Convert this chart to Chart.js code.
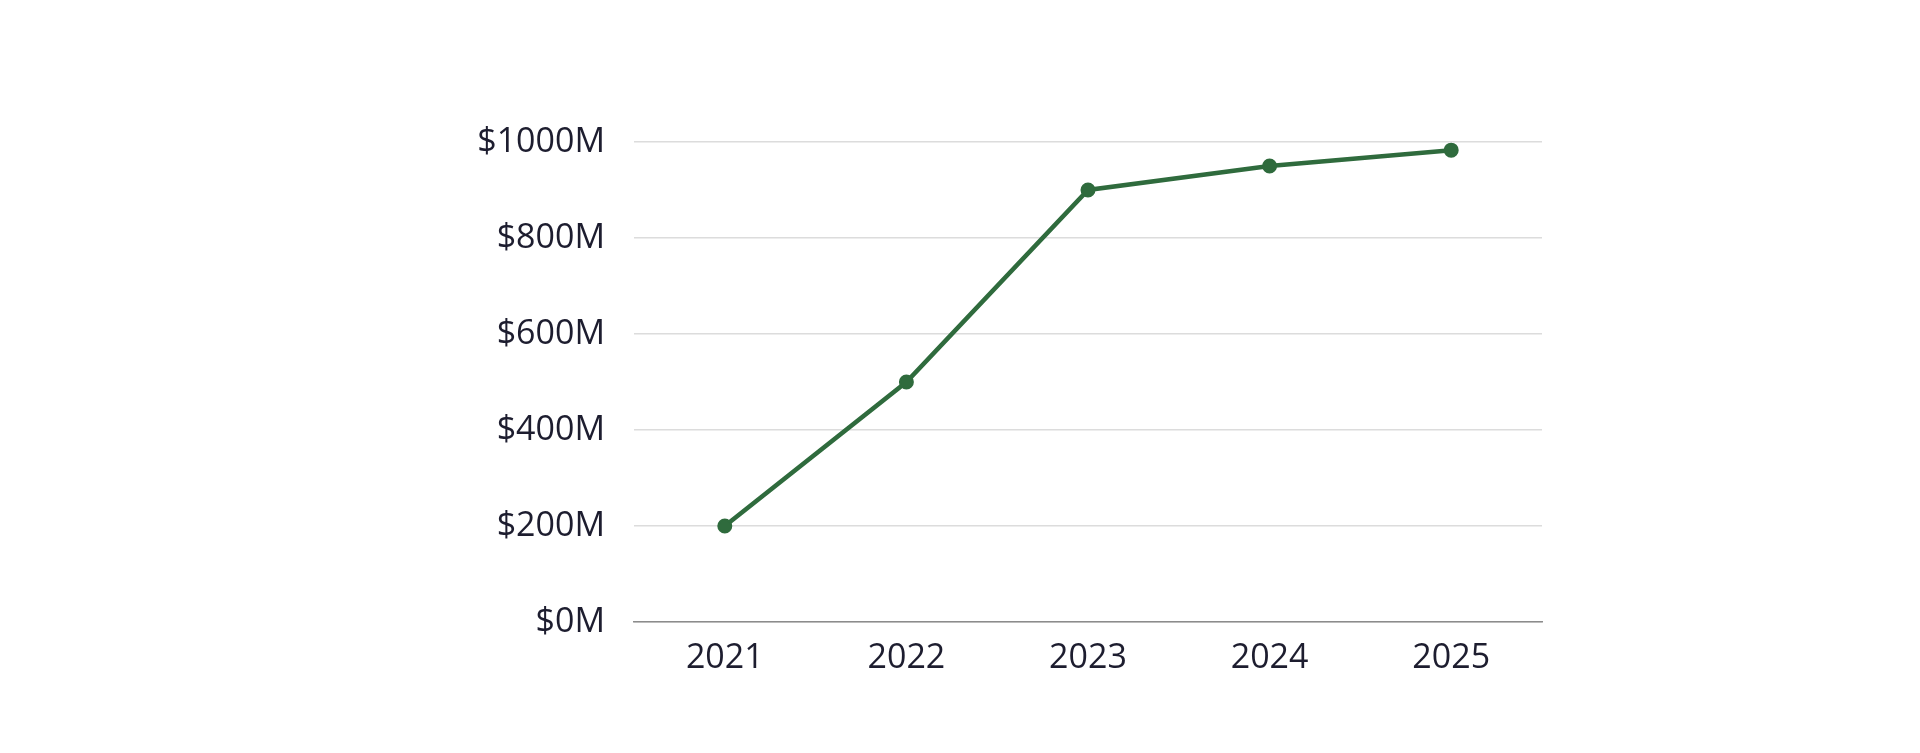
<!DOCTYPE html>
<html>
<head>
<meta charset="utf-8">
<script src="https://cdn.jsdelivr.net/npm/chart.js@4.4.1/dist/chart.umd.min.js"></script>
<style>
  html, body { margin: 0; padding: 0; background: #fff; }
  #wrap { width: 1920px; height: 753px; }
</style>
</head>
<body>
<div id="wrap"><canvas id="myChart" width="1920" height="753"></canvas></div>
<script>
// data
var years = ["2021", "2022", "2023", "2024", "2025"];
var revenue = [200, 500, 900, 950, 983];   // $M
var yTicks = [0, 200, 400, 600, 800, 1000];

var green = "#2f6b3d";
var ink = "#1d1d2f";

var ctx = document.getElementById("myChart").getContext('2d');
var revenueChart = new Chart(ctx, {
    type: 'line',
    data: {
        labels: years,
        datasets: [
            {
                data: revenue,
                borderColor: green,
                backgroundColor: green,
                borderWidth: 4.5,
                pointRadius: 6.5,
                pointBorderWidth: 2,
                pointBackgroundColor: green,
                pointBorderColor: green,
                tension: 0,
                fill: false
            }
        ]
    },
    options: {
        responsive: false,
        animation: false,
        layout: { padding: { top: 142, right: 378, left: 0, bottom: 0 } },
        plugins: {
            legend: { display: false },
            tooltip: { enabled: false }
        },
        scales: {
            x: {
                offset: true,
                grid: { display: false },
                border: { display: true, color: "#8c8c8c", width: 1.5 },
                ticks: { color: ink, font: { family: "Open Sans", size: 34 }, padding: 8 },
                afterFit: function (scale) { scale.height = 131; }
            },
            y: {
                min: 0,
                max: 1000,
                afterBuildTicks: function (scale) {
                    scale.ticks = yTicks.map(function (v) { return { value: v }; });
                },
                grid: { color: "#dcdcdc", lineWidth: 1.5, drawTicks: false },
                border: { display: false },
                ticks: {
                    color: ink,
                    font: { family: "Open Sans", size: 34 },
                    padding: 29,
                    callback: function (v) { return "$" + v + "M"; }
                },
                afterFit: function (scale) { scale.width = 634; }
            }
        }
    }
});
</script>
</body>
</html>
